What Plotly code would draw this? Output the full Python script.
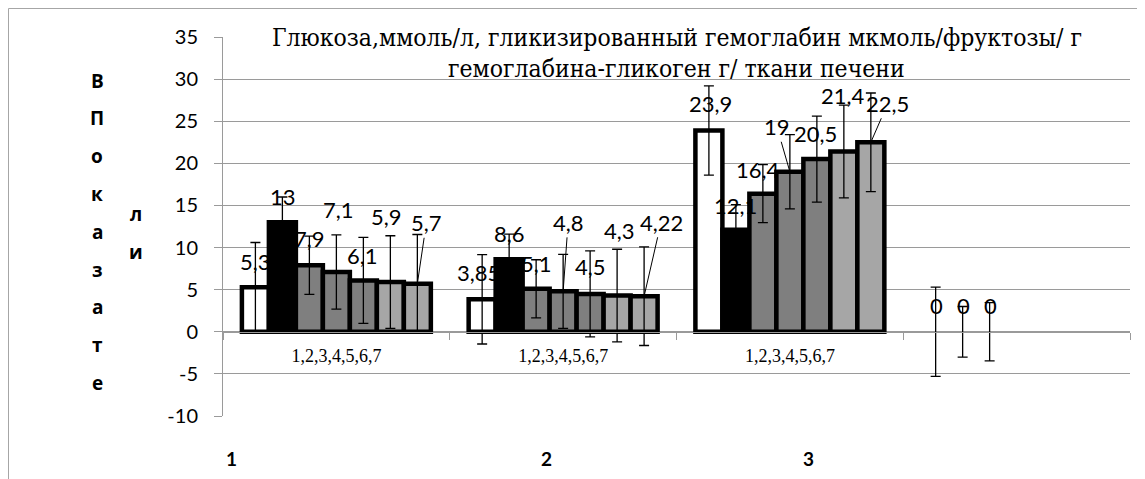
import plotly.graph_objects as go

# ---------------- data ----------------
group_labels = ["1,2,3,4,5,6,7", "1,2,3,4,5,6,7", "1,2,3,4,5,6,7", ""]
group_pos = [0, 1, 2, 3]

s1 = [5.3, 3.85, 23.9, 0]
s2 = [13, 8.6, 12.1, 0]
s3 = [7.9, 5.1, 16.4, 0]
s4 = [7.1, 4.8, 19, None]
s5 = [6.1, 4.5, 20.5, None]
s6 = [5.9, 4.3, 21.4, None]
s7 = [5.7, 4.22, 22.5, None]

e1 = [5.3, 5.3, 5.3, 5.3]
e2 = [3.0, 3.0, 3.0, 3.0]
e3 = [3.45, 3.45, 3.45, 3.45]
e4 = [4.4, 4.4, 4.4, None]
e5 = [5.1, 5.1, 5.1, None]
e6 = [5.5, 5.5, 5.5, None]
e7 = [5.85, 5.85, 5.85, None]

y_ticks = [-10, -5, 0, 5, 10, 15, 20, 25, 30, 35]
y_tick_text = ["-10", "-5", "0", "5", "10", "15", "20", "25", "30", "35"]
title_line1 = "Глюкоза,ммоль/л, гликизированный гемоглабин мкмоль/фруктозы/ г"
title_line2 = "гемоглабина-гликоген г/ ткани печени"
ytitle_col1 = "ВПоказате"
ytitle_col2 = "ли"
bottom_labels = ["1", "2", "3"]

series = [s1, s2, s3, s4, s5, s6, s7]
errors = [e1, e2, e3, e4, e5, e6, e7]

# ---------------- styles ----------------
fills = ["#ffffff", "#000000", "#7f7f7f", "#7f7f7f", "#7f7f7f", "#a6a6a6", "#a6a6a6"]
GRID = "#9a9a9a"
SANS = "Lato"
SERIF = "Liberation Serif"
TITLE_SERIF = "DejaVu Serif Condensed"
BOLD_SANS = "Open Sans"

OFF = 8  # page body margin
W, H = 1137, 471
L, R, T, B = 215, 15, 29, 63
YMIN, YMAX = -10, 35
BARGAP = 0.1667
bar_w = (1 - BARGAP) / 7

# label placement (pixel offsets from bar top) and leader-line flags, per series per group
label_dx = [
    [0, -4, 2, 1],
    [1, 0, 0, 1],
    [0, 0, -5, 1],
    [2, 5, -13, 0],
    [-1, 0, -1, 0],
    [-4, 2, -1, 0],
    [9, 17, 17, 0],
]
label_dy = [
    [-26, -27, -27, -26],
    [-26, -26, -24, -26],
    [-27, -25, -24, -26],
    [-62, -69, -45, 0],
    [-25, -27, -26, 0],
    [-66, -65, -56, 0],
    [-61, -74, -39, 0],
]
leader = [
    [0, 0, 0, 0],
    [0, 0, 0, 0],
    [0, 0, 0, 0],
    [0, 1, 1, 0],
    [0, 0, 0, 0],
    [0, 0, 0, 0],
    [1, 1, 1, 0],
]


def px_x(px):
    return (px - OFF - L) / (W - L - R)


def px_y(py):
    return (H - B - (py - OFF)) / (H - T - B)


fig = go.Figure()
for k, (vals, errs) in enumerate(zip(series, errors)):
    fig.add_trace(go.Bar(
        x=group_pos, y=vals,
        marker=dict(color=fills[k],
                    line=dict(color="#000000",
                              width=[4.5 if v else 0 for v in vals])),
        error_y=dict(type="data", array=errs, visible=True, color="#000000",
                     thickness=1.3, width=5),
        showlegend=False, hoverinfo="skip",
    ))

annotations = []
for k, vals in enumerate(series):
    for g, v in enumerate(vals):
        if v is None:
            continue
        annotations.append(dict(
            x=group_pos[g] + (k - 3) * bar_w, y=v, xref="x", yref="y",
            text=f"{v:g}".replace(".", ","),
            showarrow=True, ax=label_dx[k][g], ay=label_dy[k][g],
            arrowhead=0, arrowwidth=1,
            arrowcolor="#000000" if leader[k][g] else "rgba(0,0,0,0)",
            font=dict(family=SANS, size=22, color="#000000"),
        ))

# title (two lines)
annotations.append(dict(x=px_x(677), y=px_y(37), xref="paper", yref="paper", text=title_line1,
                        showarrow=False, font=dict(family=TITLE_SERIF, size=24.5, color="#000000"),
                        xanchor="center", yanchor="middle"))
annotations.append(dict(x=px_x(676), y=px_y(69), xref="paper", yref="paper", text=title_line2,
                        showarrow=False, font=dict(family=TITLE_SERIF, size=24.5, color="#000000"),
                        xanchor="center", yanchor="middle"))

# vertical y-axis title letters
for i, ch in enumerate(ytitle_col1):
    annotations.append(dict(x=px_x(97), y=px_y(80.5 + 37.8 * i), xref="paper", yref="paper",
                            text=f"<b>{ch}</b>", showarrow=False,
                            font=dict(family=BOLD_SANS, size=19, color="#000000"),
                            xanchor="center", yanchor="middle"))
for i, ch in enumerate(ytitle_col2):
    annotations.append(dict(x=px_x(136), y=px_y(214 + 37.7 * i), xref="paper", yref="paper",
                            text=f"<b>{ch}</b>", showarrow=False,
                            font=dict(family=BOLD_SANS, size=19, color="#000000"),
                            xanchor="center", yanchor="middle"))

# bottom labels
for lab, px in zip(bottom_labels, [231, 546, 808]):
    annotations.append(dict(x=px_x(px), y=px_y(458), xref="paper", yref="paper",
                            text=f"<b>{lab}</b>", showarrow=False,
                            font=dict(family=SANS, size=19, color="#000000"),
                            xanchor="center", yanchor="middle"))

shapes = [
    dict(type="line", xref="paper", yref="paper", x0=px_x(8.5), x1=px_x(8.5),
         y0=px_y(8.5), y1=px_y(490), line=dict(color="#a6a6a6", width=1)),
    dict(type="line", xref="paper", yref="paper", x0=px_x(8.5), x1=px_x(1160),
         y0=px_y(8.5), y1=px_y(8.5), line=dict(color="#a6a6a6", width=1)),
]

fig.update_layout(
    width=W, height=H,
    margin=dict(l=L, r=R, t=T, b=B, pad=0),
    paper_bgcolor="#ffffff", plot_bgcolor="#ffffff",
    barmode="group", bargap=BARGAP, bargroupgap=0,
    annotations=annotations, shapes=shapes,
    xaxis=dict(
        range=[-0.5, 3.5], tickmode="array", tickvals=group_pos, ticktext=group_labels,
        ticks="", showgrid=False, zeroline=False,
        showline=True, linecolor=GRID, linewidth=1,
        anchor="free", position=(0 - YMIN) / (YMAX - YMIN),
        tickfont=dict(family=SERIF, size=18, color="#000000"),
        ticklabelstandoff=8,
        minor=dict(tickmode="array", tickvals=[-0.5, 0.5, 1.5, 2.5, 3.5], ticks="outside",
                   ticklen=7, tickcolor=GRID, tickwidth=1, showgrid=False),
    ),
    yaxis=dict(
        range=[YMIN, YMAX], tickmode="array", tickvals=y_ticks, ticktext=y_tick_text,
        showgrid=True, gridcolor=GRID, gridwidth=1, zeroline=False,
        showline=True, linecolor=GRID, linewidth=1,
        ticks="outside", ticklen=8, tickcolor=GRID,
        tickfont=dict(family=SANS, size=20, color="#000000"),
        ticklabelstandoff=12,
    ),
)

fig.write_html("out.html")
